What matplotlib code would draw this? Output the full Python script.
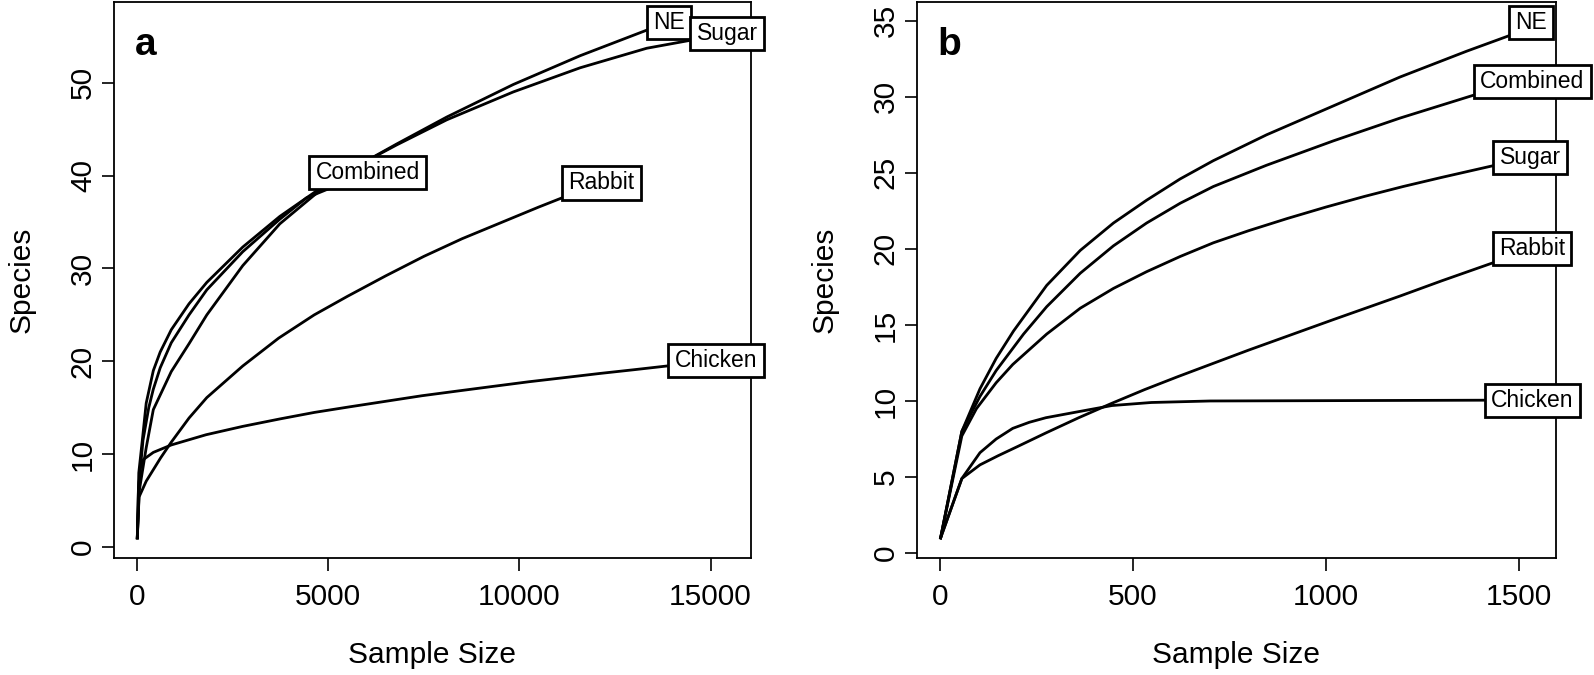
import matplotlib
matplotlib.use("Agg")
import matplotlib.pyplot as plt
from matplotlib.path import Path

plt.rcParams['font.family'] = ['Liberation Sans', 'DejaVu Sans']

# ---- panel a: rarefaction curves (sample size vs species) ----
a_names = ['NE', 'Sugar', 'Combined', 'Rabbit', 'Chicken']
a_x = [
    [1, 40, 140, 234, 420, 600, 890, 1355, 1820, 2760, 3730, 4780, 5830, 6790, 8100, 9840, 11590, 13300, 13910],
    [1, 50, 234, 420, 890, 1355, 1820, 2760, 3730, 4780, 5830, 6790, 8100, 9840, 11590, 13330, 14530, 15440],
    [1, 50, 150, 300, 420, 600, 890, 1355, 1820, 2760, 3730, 4430, 6030],
    [1, 47, 234, 610, 890, 1355, 1820, 2760, 3700, 4630, 5500, 6500, 7500, 8500, 9500, 10500, 11300, 12140],
    [1, 30, 80, 150, 420, 890, 1800, 2760, 3730, 4630, 5550, 6500, 7450, 8370, 9300, 10240, 11180, 12110, 13000, 13860, 15140],
]
a_y = [
    [1, 8, 11.8, 15.5, 19.0, 21.0, 23.4, 26.2, 28.5, 32.3, 35.6, 38.6, 41.2, 43.4, 46.3, 49.8, 52.9, 55.6, 56.5],
    [1, 6, 10.7, 14.8, 18.9, 21.9, 25.0, 30.3, 34.8, 38.4, 41.2, 43.3, 46.0, 49.0, 51.6, 53.7, 54.6, 55.3],
    [1, 7, 11.5, 15.0, 17.0, 19.3, 22.0, 25.0, 27.7, 31.8, 35.3, 37.6, 40.3],
    [1, 5.4, 7.1, 9.6, 11.3, 13.9, 16.1, 19.5, 22.5, 25.0, 27.0, 29.2, 31.3, 33.2, 34.9, 36.6, 37.9, 39.2],
    [1, 6, 8.5, 9.4, 10.2, 11.0, 12.1, 13.0, 13.8, 14.5, 15.1, 15.7, 16.3, 16.8, 17.3, 17.8, 18.25, 18.7, 19.1, 19.5, 20.1],
]
a_xticks = [0, 5000, 10000, 15000]
a_yticks = [0, 10, 20, 30, 40, 50]

# ---- panel b ----
b_names = ['NE', 'Combined', 'Sugar', 'Rabbit', 'Chicken']
b_x = [
    [1, 56, 103, 145, 190, 276, 363, 449, 535, 622, 708, 846, 1019, 1192, 1365, 1473, 1531],
    [1, 56, 103, 145, 216, 276, 363, 449, 535, 622, 708, 846, 1019, 1192, 1382, 1535],
    [1, 56, 94, 145, 188, 276, 363, 449, 535, 622, 708, 800, 900, 1000, 1100, 1200, 1300, 1430, 1530],
    [1, 56, 103, 150, 200, 274, 359, 445, 530, 616, 700, 800, 915, 1019, 1192, 1300, 1429, 1534],
    [1, 56, 103, 145, 188, 231, 274, 359, 445, 547, 700, 1535],
]
b_y = [
    [1, 8.0, 10.8, 12.8, 14.6, 17.6, 19.9, 21.7, 23.2, 24.6, 25.8, 27.5, 29.4, 31.3, 33.0, 34.0, 34.9],
    [1, 8.0, 10.3, 12.0, 14.4, 16.2, 18.4, 20.2, 21.7, 23.0, 24.1, 25.5, 27.1, 28.6, 30.1, 31.0],
    [1, 7.7, 9.5, 11.2, 12.4, 14.4, 16.1, 17.4, 18.5, 19.5, 20.4, 21.2, 22.0, 22.75, 23.45, 24.1, 24.7, 25.45, 26.0],
    [1, 4.9, 5.8, 6.4, 7.0, 7.9, 8.9, 9.85, 10.75, 11.6, 12.4, 13.35, 14.4, 15.35, 16.9, 17.9, 19.05, 20.0],
    [1, 4.9, 6.6, 7.5, 8.2, 8.6, 8.9, 9.3, 9.7, 9.9, 10.0, 10.06],
]
b_xticks = [0, 500, 1000, 1500]
b_yticks = [0, 5, 10, 15, 20, 25, 30, 35]


def label_box(x0, y0, width, height, mutation_size):
    # wider padding left/right than top/bottom, like R's ordilabel
    px = 0.28 * mutation_size
    py = 0.22 * mutation_size
    x0, y0 = x0 - px, y0 - py
    x1, y1 = x0 + width + 2 * px, y0 + height + 2 * py
    return Path([(x0, y0), (x1, y0), (x1, y1), (x0, y1), (x0, y0)], closed=True)


def draw_panel(ax, names, xs, ys, xticks, yticks, tag):
    for name, x, y in zip(names, xs, ys):
        ax.plot(x, y, color='black', lw=2.0, zorder=2)
    for name, x, y in zip(names, xs, ys):
        ax.text(x[-1], y[-1], name, ha='center', va='center', fontsize=16.5,
                zorder=5, clip_on=False,
                bbox=dict(boxstyle=label_box, fc='white', ec='black', lw=2.0))
    # R-style limits: data range extended by 4%
    xmax = max(max(x) for x in xs)
    ymax = max(max(y) for y in ys)
    ax.set_xlim(-0.04 * xmax, 1.04 * xmax)
    ax.set_ylim(1 - 0.04 * (ymax - 1), ymax + 0.04 * (ymax - 1))
    ax.set_xticks(xticks)
    ax.set_yticks(yticks)
    ax.set_yticklabels([str(t) for t in yticks], rotation=90, va='center')
    ax.tick_params(direction='out', length=9, width=1.2, labelsize=21.5,
                   color='black', labelcolor='black')
    ax.tick_params(axis='x', pad=9)
    ax.tick_params(axis='y', pad=3)
    for s in ax.spines.values():
        s.set_linewidth(1.3)
    ax.set_xlabel('Sample Size', fontsize=21.5, labelpad=21)
    ax.set_ylabel('Species', fontsize=21.5, labelpad=24)
    ax.text(0.033, 0.955, tag, transform=ax.transAxes, fontsize=28,
            fontweight='bold', ha='left', va='top')


fig = plt.figure(figsize=(15.94, 6.75), dpi=100)
ax1 = fig.add_axes([0.0713, 0.1726, 0.3998, 0.825])
ax2 = fig.add_axes([0.575, 0.1726, 0.4012, 0.825])
draw_panel(ax1, a_names, a_x, a_y, a_xticks, a_yticks, 'a')
draw_panel(ax2, b_names, b_x, b_y, b_xticks, b_yticks, 'b')

fig.savefig('out.png', dpi=100, facecolor='white')
